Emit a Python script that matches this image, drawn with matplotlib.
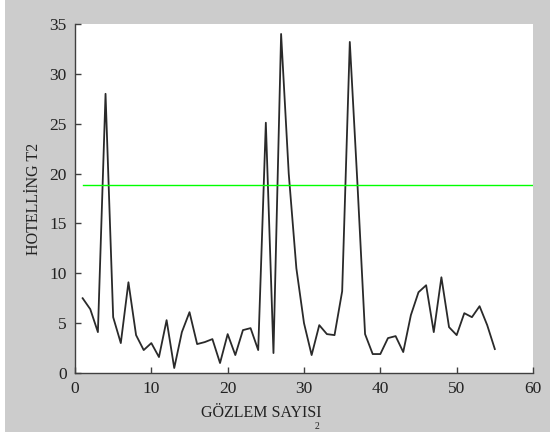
import matplotlib
matplotlib.use("Agg")
import matplotlib.pyplot as plt
from matplotlib.patches import Rectangle

# Hotelling T2 statistic for each observation
gozlem = list(range(1, 56))
t2 = [7.5, 6.4, 4.1, 28.0, 5.6, 3.0, 9.1, 3.8, 2.3, 3.0,
      1.6, 5.3, 0.5, 4.1, 6.1, 2.9, 3.1, 3.4, 1.0, 3.9,
      1.8, 4.3, 4.5, 2.3, 25.1, 2.0, 34.0, 20.0, 10.5, 5.0,
      1.8, 4.8, 3.9, 3.8, 8.2, 33.2, 19.0, 3.9, 1.9, 1.9,
      3.5, 3.7, 2.1, 5.8, 8.1, 8.8, 4.1, 9.6, 4.6, 3.8,
      6.0, 5.6, 6.7, 4.8, 2.4]

# control limit
ust_sinir = 18.9
sinir_x = [1, 60]

plt.rcParams['font.family'] = ['Liberation Serif', 'DejaVu Serif']

fig = plt.figure(figsize=(5.5, 4.32), dpi=100, facecolor='#cccccc')
fig.patches.append(Rectangle((0, 0), 5 / 550, 1, transform=fig.transFigure,
                             facecolor='white', edgecolor='none'))
ax = fig.add_axes([75 / 550, 1 - 373 / 432, 458 / 550, 349 / 432])
ax.set_facecolor('white')

ax.plot(gozlem, t2, color='#2a2a2a', linewidth=1.3)
ax.plot(sinir_x, [ust_sinir, ust_sinir], color='#00ff00', linewidth=1.0)

ax.set_xlim(0, 60)
ax.set_ylim(0, 35)
ax.set_xticks(range(0, 61, 10))
ax.set_yticks(range(0, 36, 5))

for s in ['top', 'right']:
    ax.spines[s].set_visible(False)
for s in ['left', 'bottom']:
    ax.spines[s].set_color('#404040')
    ax.spines[s].set_linewidth(1.0)

ax.tick_params(direction='in', length=4, width=1, color='#404040',
               labelsize=12.5, labelcolor='#222222', pad=6)

ax.set_ylabel('HOTELLİNG T2', fontsize=11.5, color='#222222', labelpad=5)
fig.text(261 / 550, 1 - 413 / 432, 'GÖZLEM SAYISI', fontsize=11.5,
         color='#222222', ha='center', va='center')
fig.text(317 / 550, 1 / 432, '2', fontsize=7, color='#222222',
         ha='center', va='bottom')

fig.savefig('out.png', dpi=100, facecolor=fig.get_facecolor())
